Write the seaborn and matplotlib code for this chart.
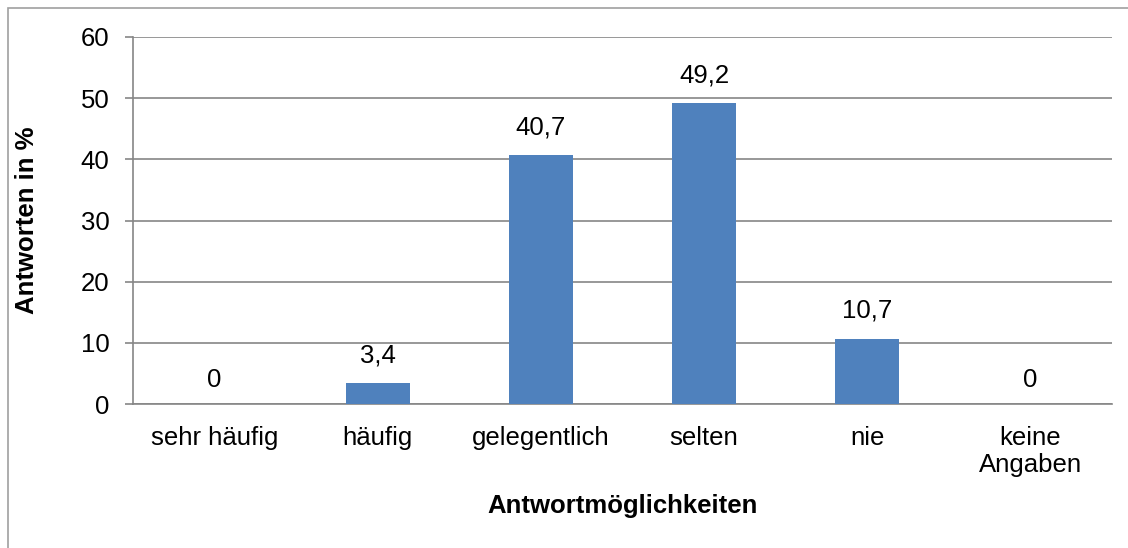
import matplotlib
matplotlib.use("Agg")
import matplotlib.pyplot as plt
import seaborn as sns
import pandas as pd
from matplotlib.patches import Rectangle

categories = ["sehr häufig", "häufig", "gelegentlich", "selten", "nie", "keine\nAngaben"]
values = [0, 3.4, 40.7, 49.2, 10.7, 0]
yticks = [0, 10, 20, 30, 40, 50, 60]

sns.set_theme(style="white")
plt.rcParams['font.family'] = ['Liberation Sans', 'DejaVu Sans']
plt.rcParams['text.color'] = 'black'
plt.rcParams['xtick.color'] = 'black'
plt.rcParams['ytick.color'] = 'black'
plt.rcParams['axes.labelcolor'] = 'black'

df = pd.DataFrame({"Antwort": categories, "Prozent": values})

fig = plt.figure(figsize=(11.28, 5.48), dpi=100)
ax = fig.add_axes([133 / 1128, 1 - 404 / 548, (1112 - 133) / 1128, (404 - 37) / 548])

sns.barplot(data=df, x="Antwort", y="Prozent", color="#4F81BD", saturation=1,
            width=0.39, ax=ax, zorder=3, edgecolor="none", linewidth=0)

ax.set_ylim(0, 60)
ax.set_yticks(yticks)
ax.set_xlim(-0.5, len(categories) - 0.5)
ax.yaxis.grid(True, color="#868686", linewidth=1.2, zorder=0)
ax.set_axisbelow(True)
for s in ["top", "right"]:
    ax.spines[s].set_visible(False)
for s in ["left", "bottom"]:
    ax.spines[s].set_color("#868686")
    ax.spines[s].set_linewidth(1.2)

fs = 18.5
ax.tick_params(axis="y", length=6, width=1.2, color="#868686", labelcolor="black",
               labelsize=fs, pad=11, left=True)
ax.tick_params(axis="x", length=0, labelsize=fs, labelcolor="black", pad=15.5)
for lbl in ax.get_xticklabels():
    lbl.set_linespacing(1.2)

ax.set_xlabel("Antwortmöglichkeiten", fontsize=fs, fontweight="bold", labelpad=12)
ax.set_ylabel("Antworten in %", fontsize=fs, fontweight="bold", labelpad=30)

for i, v in enumerate(values):
    txt = ("%g" % v).replace(".", ",")
    off = 17 if v == 0 else 20
    ax.annotate(txt, (i, v), xytext=(0, off), textcoords="offset points",
                ha="center", va="center", fontsize=fs, color="black")

# outer frame like the source image
fig.patches.append(Rectangle((8 / 1128, -0.1), 1.2, 1 - 8 / 548 + 0.1,
                             transform=fig.transFigure, fill=False,
                             edgecolor="#a0a0a0", linewidth=1.2))

fig.savefig("out.png", dpi=100)
